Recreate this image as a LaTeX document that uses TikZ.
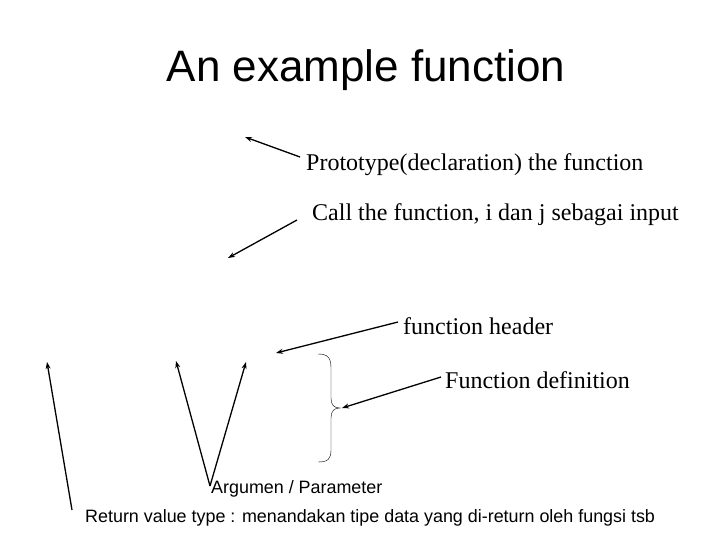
\documentclass[tikz,border=0pt]{standalone}
\usepackage{fontspec}
\setmainfont{Liberation Serif}
\setsansfont{Liberation Sans}
\usetikzlibrary{arrows.meta,decorations.pathreplacing}
\begin{document}
\begin{tikzpicture}[x=1pt,y=-1pt,
  arr/.style={-{Stealth[length=7pt,width=5pt]},line width=1.3pt},
  lbl/.style={anchor=west,inner sep=0pt,font=\fontsize{24}{28}\selectfont},
  slbl/.style={anchor=west,inner sep=0pt,font=\sffamily\fontsize{17.9}{21}\selectfont}]
\useasboundingbox (0,0) rectangle (720,540);
\node[font=\sffamily\fontsize{44}{50}\selectfont] (title) at (366,70) {An example function};
\node[lbl] (t1) at (306,165) {Prototype(declaration) the function};
\coordinate (e1) at (245,137);
\draw[arr] (300,157) coordinate (s1) -- (e1);
\node[lbl] (t2) at (312,215) {Call the function, i dan j sebagai input};
\coordinate (e2) at (228,258);
\draw[arr] (297,220) coordinate (s2) -- (e2);
\node[lbl] (t3) at (403,326) {function header};
\coordinate (e3) at (276,353);
\draw[arr] (398,322) coordinate (s3) -- (e3);
\node[lbl] (t4) at (445,380) {Function definition};
\draw[thin] (318,354) .. controls (328,354) and (331,358) .. (331,368) -- (331,398) .. controls (331,405) and (334,408) .. (340,408)
  .. controls (334,408) and (331,411) .. (331,418) -- (331,450) .. controls (331,459) and (328,462) .. (318,462);
\coordinate (e4) at (342,408);
\draw[arr] (441,377) coordinate (s4) -- (e4);
\node[slbl] (t5) at (211,489) {Argumen / Parameter};
\coordinate (v) at (210,486);
\draw[arr] (v) -- (176,361);
\draw[arr] (v) -- (246,362);
\node[slbl] (t6) at (85,518) {Return value type : menandakan tipe data yang di-return oleh fungsi tsb};
\draw[arr] (72,510) -- (47,362);
\end{tikzpicture}
\end{document}
